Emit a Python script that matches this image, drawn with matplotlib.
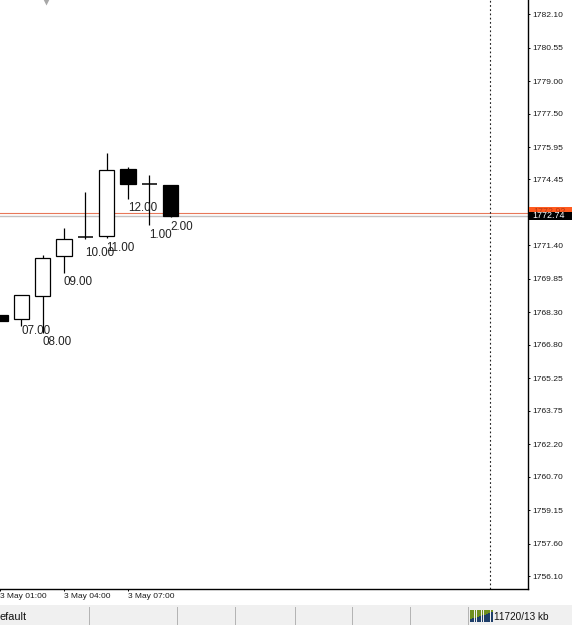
import numpy as np
from matplotlib import pyplot as plt
from matplotlib.patches import Rectangle

plt.rcParams['font.family'] = ['Liberation Sans', 'DejaVu Sans']

# hours after 3 May 00:00
hours = [1, 2, 3, 4, 5, 6, 7, 8, 9]
opens = [1768.17, 1767.98, 1769.07, 1770.89, 1771.80, 1771.82, 1774.92, 1774.25, 1774.20]
closes = [1767.90, 1769.10, 1770.80, 1771.69, 1771.80, 1774.87, 1774.25, 1774.25, 1772.77]
highs = [1768.17, 1769.10, 1770.95, 1772.20, 1773.88, 1775.68, 1775.01, 1774.65, 1774.20]
lows = [1767.90, 1767.67, 1767.34, 1770.12, 1771.69, 1771.72, 1773.53, 1772.35, 1772.71]

hour_labels = ['07.00', '08.00', '09.00', '10.00', '11.00', '12.00', '1.00', '2.00']
label_hours = [2, 3, 4, 5, 6, 7, 8, 9]
label_prices = [1767.43, 1766.91, 1769.69, 1771.07, 1771.30, 1773.11, 1771.90, 1772.23]

# 1772.90 sits under the price boxes so it is left out
price_ticks = [1782.10, 1780.55, 1779.00, 1777.50, 1775.95, 1774.45, 1771.40,
               1769.85, 1768.30, 1766.80, 1765.25, 1763.75, 1762.20, 1760.70, 1759.15,
               1757.60, 1756.10]
time_ticks = [1, 4, 7]
time_labels = ['3 May 01:00', '3 May 04:00', '3 May 07:00']

bid = 1772.74
ask = 1772.92
period_sep = 24
status_seps = [89, 177, 235, 295, 352, 410, 468]


def main():
    fig = plt.figure(figsize=(5.72, 6.25), dpi=100, facecolor='white')
    W, H = 572., 625.

    # status bar first so the chart sits on top of it
    fig.patches.append(Rectangle((0, 0), 1, 20.5/H, transform=fig.transFigure,
                                 fc='#f0f0f0', ec='none'))
    for x in status_seps:
        fig.patches.append(Rectangle((x/W, 0), 1.2/W, 18/H, transform=fig.transFigure,
                                     fc='#b4b4b4', ec='none'))

    ax = fig.add_axes([0, 35.8/H, 528.3/W, 589.2/H])
    ax.set_xlim(1.05, 25.78)
    ax.set_ylim(1755.50, 1782.75)

    ax.axhline(ask, color='#e8785a', lw=0.8, zorder=1)
    ax.axhline(bid, color='#c4c0c0', lw=1.0, zorder=1)
    ax.axvline(period_sep, color='#222222', lw=0.8, ls=(0, (1.6, 2.2)), zorder=1)

    w = 0.36
    for h, o, c, hi, lo in zip(hours, opens, closes, highs, lows):
        ax.plot([h, h], [lo, hi], color='black', lw=0.9, zorder=2, solid_capstyle='butt')
        if o == c:
            ax.plot([h-w, h+w], [o, o], color='black', lw=1.1, zorder=3, solid_capstyle='butt')
        else:
            ax.add_patch(Rectangle((h-w, min(o, c)), 2*w, abs(c-o), lw=0.9, ec='black',
                                   fc='black' if c < o else 'white', zorder=3))

    for h, p, s in zip(label_hours, label_prices, hour_labels):
        ax.text(h, p, s, fontsize=8.4, color='#222222', ha='left', va='center', zorder=4)

    ax.plot([3.15], [1782.72], marker='v', ms=6, color='#a8a8a8', mec='none', zorder=2)

    for s in ('top', 'left'):
        ax.spines[s].set_visible(False)
    for s in ('right', 'bottom'):
        ax.spines[s].set_linewidth(1.0)

    ax.yaxis.tick_right()
    ax.set_yticks(price_ticks)
    ax.set_yticklabels(['%.2f' % p for p in price_ticks])
    ax.set_xticks(time_ticks)
    ax.set_xticklabels(time_labels, ha='left')
    ax.tick_params(axis='y', length=1.5, width=0.7, pad=1.2, labelsize=6.1, labelcolor='#1a1a1a')
    ax.tick_params(axis='x', length=1.5, width=0.7, pad=1.0, labelsize=6.0, labelcolor='#1a1a1a')

    # current price boxes over the right scale
    fig.patches.append(Rectangle((528.5/W, 1-212.5/H), 43.5/W, 6/H, transform=fig.transFigure,
                                 fc='#ff5a1e', ec='none', zorder=5))
    fig.text(533/W, 1-211/H, '%.2f' % ask, color='#b83a12', fontsize=6.4, va='center', zorder=5.5)
    fig.patches.append(Rectangle((528.5/W, 1-220/H), 43.5/W, 8/H, transform=fig.transFigure,
                                 fc='black', ec='none', zorder=6))
    fig.text(532.5/W, 1-216/H, '%.2f' % bid, color='white', fontsize=6.4, va='center', zorder=7)

    # status bar contents
    fig.text(0, 8/H, 'efault', fontsize=7.8, color='#111111', va='center')
    fig.text(494/W, 8/H, '11720/13 kb', fontsize=7.2, color='#111111', va='center')
    bars = np.arange(470, 491, 2.3)
    for i, x in enumerate(bars):
        split = 3 + i*0.75
        fig.patches.append(Rectangle((x/W, 3/H), 1.8/W, split/H, transform=fig.transFigure,
                                     fc='#1f3f6a', ec='none'))
        fig.patches.append(Rectangle((x/W, (3+split)/H), 1.8/W, (12-split)/H, transform=fig.transFigure,
                                     fc='#6f8f1f', ec='none'))

    fig.savefig('out.png', dpi=100, facecolor='white')


if __name__ == '__main__':
    main()
